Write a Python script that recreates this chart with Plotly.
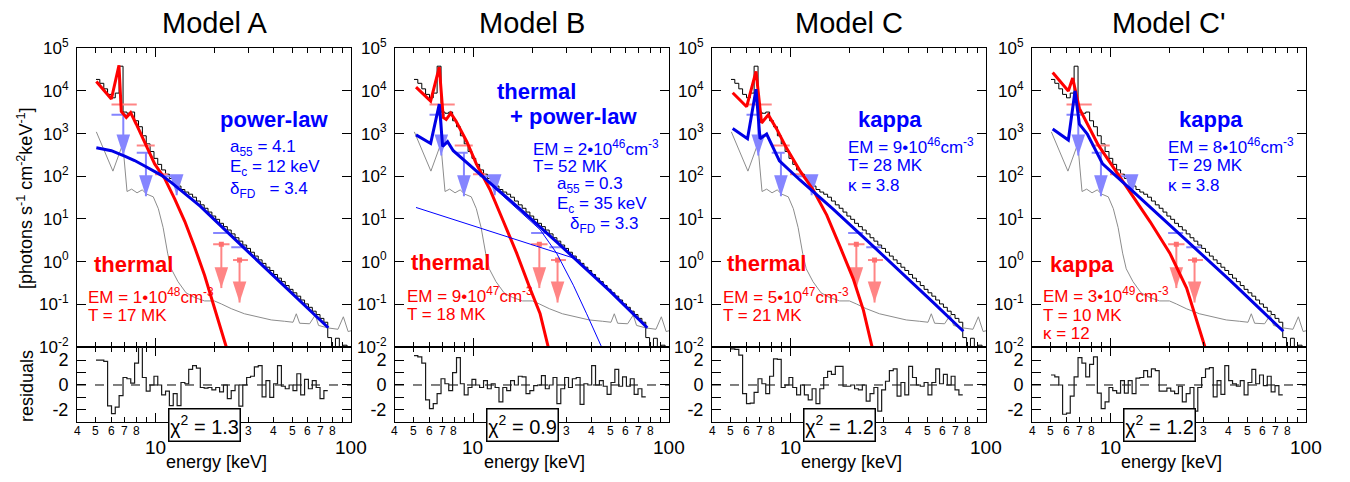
import numpy as np
import plotly.graph_objects as go

W, H = 1350, 482

# ---------------- data ----------------
# energy bin edges (keV) of the count spectrum / residuals
edges = [5.00, 5.23, 5.48, 5.73, 6.00, 6.27, 6.56, 6.87, 7.19, 7.52, 7.87, 8.24, 8.62, 9.02, 9.44,
         9.88, 10.33, 10.81, 11.32, 11.84, 12.39, 12.97, 13.57, 14.20, 14.86, 15.55, 16.27, 17.03,
         17.82, 18.64, 19.51, 20.41, 21.36, 22.35, 23.39, 24.48, 25.61, 26.80, 28.05, 29.35, 30.71,
         32.14, 33.63, 35.19, 36.82, 38.53, 40.32, 42.19, 44.15, 46.20, 48.34, 50.59, 52.94, 55.39,
         57.96, 60.65, 63.47, 66.42, 69.50, 72.73, 76.10]
edges_hi = [79.6, 83.3, 87.2, 91.2, 95.5, 100.0]

# observed photon spectrum [photons s^-1 cm^-2 keV^-1]
spec_flux = [1.86e4, 1.51e4, 1.12e4, 8.3e3, 6.9e3, 8.9e3, 3.8e4, 3.2e3, 3.0e3, 3.2e3,
             2.0e3, 1.45e3, 890, 575, 380, 263, 190, 141, 112, 89,
             72, 59, 49, 42.7, 38.0, 32.4, 26.3, 21.4, 17.8, 14.5,
             11.7, 9.8, 7.9, 6.6, 5.5, 4.47, 3.63, 3.02, 2.45, 2.04,
             1.66, 1.35, 1.10, 0.91, 0.74, 0.62, 0.50, 0.41, 0.34, 0.275,
             0.224, 0.186, 0.155, 0.126, 0.102, 0.085, 0.069, 0.0575, 0.0468, 0.038,
             0.0166, 0.005, 0.016, 0.006, 0.011, 0.0095]

# background spectrum (grey)
bkg_E = [5.02, 6.1, 6.85, 7.2, 7.6, 8.1, 8.6, 9.1, 9.8, 10.4, 11.0, 11.6, 12.1, 13.1, 14.4,
         15.9, 17.9, 20.1, 21.8, 24.5, 28.6, 33.5, 39.2, 45.9, 50.6, 52.6, 54.7, 61.5, 65.7, 68.3,
         76.1, 85.8, 91.4, 96.7, 100.0]
bkg_F = [1100, 132, 575, 44, 50, 41, 48, 38, 33, 17.4, 6.3, 1.58, 0.68, 0.34, 0.186,
         0.145, 0.12, 0.12, 0.102, 0.079, 0.060, 0.051, 0.043, 0.040, 0.038, 0.060, 0.036, 0.035, 0.056, 0.032,
         0.028, 0.026, 0.051, 0.023, 0.024]

# upper limits (light red = thermal, light blue = non-thermal)
ul_red_lo = [6.0, 8.07, 10.0, 19.8, 25.0]
ul_red_hi = [8.07, 9.97, 11.6, 24.0, 29.8]
ul_red_F = [4800, 525, 112, 2.56, 1.09]
ul_blue_lo = [6.0, 8.07, 10.8, 19.8, 24.5]
ul_blue_hi = [7.17, 9.4, 12.9, 23.6, 29.2]
ul_blue_F = [2750, 355, 100, 4.67, 2.16]
arrow_E = [6.89, 8.99, 12.9, 21.8, 27.0]
arrow_from = [2750, 355, 100, 2.56, 1.09]
arrow_to = [309, 34, 36, 0.24, 0.11]
arrow_kind = ["blue", "blue", "blue", "red", "red"]

# Model A
A_th_E = [5.02, 5.99, 6.55, 6.73, 7.14, 7.51, 8.03, 8.86, 9.96, 11.2, 12.6, 14.2, 15.9, 17.9, 20.1, 23.1, 24.2]
A_th_F = [1.66e4, 6.46e3, 3.98e4, 3.31e3, 2.40e3, 3.09e3, 1.66e3, 646, 195, 89, 29.5, 8.7, 2.24, 0.48, 0.085, 0.01, 0.0035]
A_nt_E = [5.02, 5.99, 7.0, 7.87, 8.86, 9.96, 10.8, 12.0, 13.5, 15.0, 17.0, 22.7, 33.5, 49.6, 76.6]
A_nt_F = [468, 398, 295, 234, 174, 132, 105, 74, 48, 31.6, 20.0, 5.6, 1.02, 0.186, 0.0282]
# Model B
B_th_E = [5.12, 6.08, 6.73, 7.05, 7.3, 7.7, 8.2, 9.3, 10.4, 12.2, 14.3, 16.7, 19.5, 22.0, 24.2, 25.2]
B_th_F = [1.23e4, 5.75e3, 3.63e4, 2.40e3, 2.14e3, 3.02e3, 1.95e3, 646, 195, 49, 8.7, 1.58, 0.24, 0.06, 0.01, 0.004]
B_nt_E = [5.12, 6.08, 6.73, 7.0, 7.42, 7.93, 12.2, 18.1, 26.7, 33.8, 50.0, 77.5]
B_nt_F = [933, 589, 4.9e3, 501, 646, 398, 70, 14.5, 2.9, 1.05, 0.204, 0.0282]
B_pl_E = [5.12, 33.8, 50.0, 77.5]
B_pl_F = [18.6, 1.15, 0.204, 0.0282]
B_hot_E = [10.0, 12.2, 18.1, 22.0, 26.7, 32.5, 38.0, 45.3, 47.0]
B_hot_F = [150, 66, 12.5, 5.6, 1.58, 0.28, 0.06, 0.01, 0.006]
# Model C
C_th_E = [5.1, 6.01, 6.71, 7.16, 7.75, 8.55, 9.6, 11.2, 13.1, 15.4, 18.0, 21.0, 23.7, 26.3, 27.5]
C_th_F = [9.1e3, 4.27e3, 2.88e4, 1.78e3, 2.75e3, 1.29e3, 457, 138, 49, 12.3, 2.24, 0.40, 0.072, 0.01, 0.004]
C_nt_E = [5.1, 6.07, 6.71, 7.03, 7.6, 8.83, 11.2, 16.6, 24.6, 36.4, 53.9, 76.6]
C_nt_F = [1318, 759, 1.1e4, 759, 977, 229, 83, 17.0, 3.2, 0.60, 0.11, 0.0234]
# Model C'
D_th_E = [5.1, 6.13, 6.45, 6.98, 8.72, 12.2, 16.0, 20.2, 24.6, 30.5, 31.5]
D_th_F = [2.69e4, 1.0e4, 2.0e4, 3.89e3, 537, 53.7, 8.7, 1.58, 0.24, 0.01, 0.005]
D_nt_E = [5.1, 6.13, 6.63, 6.98, 7.66, 9.17, 12.6, 18.5, 27.7, 41.1, 60.0, 76.6]
D_nt_F = [1288, 708, 1.0e4, 1660, 977, 195, 52, 10.5, 1.95, 0.36, 0.068, 0.0234]

# normalised residuals
res_A = [2.0, 2.0, 1.9, -1.67, -2.3, -1.77, -0.85, 0.6, 0.5, 0.15,
         1.75, 3.5, 0.6, -0.5, 0.0, 0.7, 0.0, -0.8, -0.5, -1.65,
         -0.7, -1.65, 0.2, 0.1, 1.25, 1.55, 1.35, -0.2, -0.25, -0.2,
         -0.4, -0.2, -0.55, 0.0, -1.1, -0.45, 0.0, -1.7, 0.0, 0.6,
         0.7, 1.45, 1.55, -0.95, 0.35, -1.0, 0.1, 1.55, -0.1, -0.3,
         0.0, -0.45, 0.9, -0.8, 0.45, -0.3, 0.35, -0.2, -1.1, -0.45]
res_B = [2.35, 2.25, 1.75, -1.2, -1.9, -1.5, -0.7, 0.5, 0.1, -0.45,
         1.0, 2.2, 0.1, -0.8, -0.2, 0.45, 0.0, -0.2, 0.35, -0.3,
         0.1, -0.2, -1.35, -0.2, -0.45, 0.35, 0.0, 0.7, 0.65, -0.7,
         -0.45, -0.05, 0.0, 0.75, -0.3, 0.0, 0.6, -1.5, -0.3, 0.6,
         -0.2, 0.5, 0.6, -1.55, 0.1, 0.0, 1.55, 0.0, 0.35, -0.1,
         -0.75, 0.2, 1.25, -0.1, 0.65, -0.1, 0.5, -0.75, -0.3, -0.95]
res_C = [2.9, 2.85, 2.4, -0.7, -1.5, -1.45, -0.6, 0.5, 0.1, -0.7,
         0.7, 2.1, 2.05, -0.2, 0.0, 0.6, -0.2, -0.8, 0.0, -0.8,
         -1.2, -0.3, -1.5, -0.3, 0.6, 1.1, 0.85, 1.5, 1.5, -0.1,
         -0.1, 0.0, -0.3, -0.4, 0.0, -1.3, -0.7, -0.2, -2.1, -0.4,
         0.3, 1.15, 1.3, -0.9, 0.2, -0.8, 1.5, 0.6, 0.0, -0.1,
         0.2, -0.8, 0.2, 1.3, 0.1, 0.85, 0.0, 0.7, -0.4, -0.8]
res_D = [0.8, 0.65, 0.0, -2.35, -2.25, -0.9, 0.65, 2.2, 1.75, 0.65,
         1.65, 2.25, -0.65, -1.9, -1.35, -0.2, -0.45, -0.65, 0.35, -0.65,
         0.35, -0.7, 0.55, 0.6, 1.15, 0.65, 1.3, 1.15, -0.5, -0.5,
         -0.25, -0.5, -0.7, -0.1, -1.35, -0.7, -0.2, -2.1, -0.2, 0.6,
         1.3, 1.4, -0.95, 0.35, -0.75, 1.55, 0.35, 0.1, -0.1, 0.35,
         -0.8, 0.2, 1.25, 0.1, 0.8, -0.05, 0.7, -0.55, -0.05, -0.8]

panel_titles = ["Model A", "Model B", "Model C", "Model C'"]
chi2_values = ["1.3", "0.9", "1.2", "1.2"]

minor_tick_E = [4, 5, 6, 7, 8, 9, 20, 30, 40, 50, 60, 70, 80, 90]
minor_label_E = [4, 5, 6, 7, 8, 30, 40, 50, 60, 70, 80]
minor_label_txt = ["4", "5", "6", "7", "8", "3", "4", "5", "6", "7", "8"]
major_label_E = [10, 100]
major_label_txt = ["10", "100"]
ytick_vals = [1e-2, 1e-1, 1e0, 1e1, 1e2, 1e3, 1e4, 1e5]
ytick_txt = ["10<sup>-2</sup>", "10<sup>-1</sup>", "10<sup>0</sup>", "10<sup>1</sup>",
             "10<sup>2</sup>", "10<sup>3</sup>", "10<sup>4</sup>", "10<sup>5</sup>"]
res_tick_vals = [-2, 0, 2]
res_tick_txt = ["-2", "0", "2"]
res_minor_vals = [-1, 1]

# ---------------- styling / layout ----------------
FONT = "Liberation Sans, Arial, sans-serif"
RED, BLUE = "#ff0000", "#0000ff"
LRED, LBLUE = "#ff8585", "#8585ff"
panel_left = [77, 395, 712, 1032]
PW = 274
Y_TOP, Y_MID, Y_BOT = 38, 351, 430

def px(x):
    return x / W

def py(y):
    return 1 - y / H

models = [
    dict(th=(A_th_E, A_th_F), nt=(A_nt_E, A_nt_F), thin=[], res=res_A),
    dict(th=(B_th_E, B_th_F), nt=(B_nt_E, B_nt_F), thin=[(B_pl_E, B_pl_F), (B_hot_E, B_hot_F)], res=res_B),
    dict(th=(C_th_E, C_th_F), nt=(C_nt_E, C_nt_F), thin=[], res=res_C),
    dict(th=(D_th_E, D_th_F), nt=(D_nt_E, D_nt_F), thin=[], res=res_D),
]

fig = go.Figure()
annotations = []
layout = {}

spec_edges = edges + edges_hi

for k, m in enumerate(models):
    mi, ri = k + 1, k + 5
    mx = "x" if mi == 1 else f"x{mi}"
    my = "y" if mi == 1 else f"y{mi}"
    rx, ry = f"x{ri}", f"y{ri}"
    x0, x1 = px(panel_left[k]), px(panel_left[k] + PW)

    xcommon = dict(type="log", range=[np.log10(4), 2], domain=[x0, x1], showline=True,
                   linecolor="black", linewidth=1, mirror="ticks", ticks="inside", ticklen=9,
                   tickwidth=1, tickcolor="black", tickvals=major_label_E, showticklabels=False,
                   showgrid=False, zeroline=False,
                   minor=dict(ticks="inside", ticklen=5, tickvals=minor_tick_E, tickcolor="black",
                              tickwidth=1, showgrid=False))
    layout["xaxis" if mi == 1 else f"xaxis{mi}"] = dict(xcommon, anchor=my)
    layout[f"xaxis{ri}"] = dict(xcommon, anchor=ry)
    layout["yaxis" if mi == 1 else f"yaxis{mi}"] = dict(
        type="log", range=[-2, 5], domain=[py(Y_MID), py(Y_TOP)], anchor=mx, showline=True,
        linecolor="black", linewidth=1, mirror="ticks", ticks="inside", ticklen=9, tickcolor="black",
        tickvals=ytick_vals, ticktext=ytick_txt, showgrid=False, zeroline=False,
        tickfont=dict(family=FONT, size=17, color="black"), ticklabelstandoff=4)
    layout[f"yaxis{ri}"] = dict(
        range=[-3, 3.05], domain=[py(Y_BOT), py(Y_MID)], anchor=rx, showline=True,
        linecolor="black", linewidth=1, mirror="ticks", ticks="inside", ticklen=9, tickcolor="black",
        tickvals=res_tick_vals, ticktext=res_tick_txt, showgrid=False, zeroline=False,
        minor=dict(ticks="inside", ticklen=9, tickvals=res_minor_vals, tickcolor="black", showgrid=False),
        tickfont=dict(family=FONT, size=18, color="black"), ticklabelstandoff=4)

    # observed spectrum (step)
    fig.add_trace(go.Scatter(x=spec_edges, y=spec_flux + [spec_flux[-1]], mode="lines",
                             line=dict(color="black", width=1, shape="hv"), xaxis=mx, yaxis=my))
    # background
    fig.add_trace(go.Scatter(x=bkg_E, y=bkg_F, mode="lines", line=dict(color="#8c8c8c", width=1),
                             xaxis=mx, yaxis=my))
    # upper-limit bars
    for lo, hi, ff, col in [(ul_red_lo, ul_red_hi, ul_red_F, LRED), (ul_blue_lo, ul_blue_hi, ul_blue_F, LBLUE)]:
        xs, ys = [], []
        for a, b, f in zip(lo, hi, ff):
            xs += [a, b, None]
            ys += [f, f, None]
        fig.add_trace(go.Scatter(x=xs, y=ys, mode="lines", line=dict(color=col, width=2),
                                 xaxis=mx, yaxis=my))
    # arrows (shaft + arrow head marker whose tip sits on the limit value)
    for kind, col in [("red", LRED), ("blue", LBLUE)]:
        xs, ys, tx, ty = [], [], [], []
        for e, f0, f1, kd in zip(arrow_E, arrow_from, arrow_to, arrow_kind):
            if kd != kind:
                continue
            xs += [e, e, None]
            ys += [f0, f1, None]
            tx.append(e)
            ty.append(f1)
        fig.add_trace(go.Scatter(x=xs, y=ys, mode="lines", line=dict(color=col, width=2),
                                 xaxis=mx, yaxis=my))
        fig.add_trace(go.Scatter(x=tx, y=ty, mode="markers",
                                 marker=dict(symbol="arrow", angle=180, size=22, color=col,
                                             line=dict(width=0)),
                                 xaxis=mx, yaxis=my))
    fig.add_trace(go.Scatter(x=arrow_E[3:], y=ul_red_F[3:], mode="markers",
                             marker=dict(symbol="square", size=5, color="#ff6f6f"), xaxis=mx, yaxis=my))
    # models
    fig.add_trace(go.Scatter(x=m["th"][0], y=m["th"][1], mode="lines", line=dict(color=RED, width=3),
                             xaxis=mx, yaxis=my))
    for te, tf in m["thin"]:
        fig.add_trace(go.Scatter(x=te, y=tf, mode="lines", line=dict(color=BLUE, width=1),
                                 xaxis=mx, yaxis=my))
    fig.add_trace(go.Scatter(x=m["nt"][0], y=m["nt"][1], mode="lines", line=dict(color="#0000e6", width=3),
                             xaxis=mx, yaxis=my))
    # residuals
    fig.add_trace(go.Scatter(x=[4, 100], y=[0, 0], mode="lines",
                             line=dict(color="black", width=1, dash="dash"), xaxis=rx, yaxis=ry))
    fig.add_trace(go.Scatter(x=edges, y=m["res"] + [m["res"][-1]], mode="lines",
                             line=dict(color="#1a1a1a", width=1.2, shape="hv"), xaxis=rx, yaxis=ry))

    # x tick labels
    for e, t in zip(minor_label_E, minor_label_txt):
        annotations.append(dict(x=np.log10(e), y=py(439), xref=rx, yref="paper", text=t, showarrow=False,
                                font=dict(family=FONT, size=12, color="black"), xanchor="center", yanchor="middle"))
    for e, t in zip(major_label_E, major_label_txt):
        annotations.append(dict(x=np.log10(e), y=py(456), xref=rx, yref="paper", text=t, showarrow=False,
                                font=dict(family=FONT, size=19, color="black"), xanchor="center", yanchor="middle"))
    cx = panel_left[k] + PW / 2
    annotations.append(dict(x=px(panel_left[k] + 139), y=py(471), xref="paper", yref="paper",
                            text="energy [keV]", showarrow=False,
                            font=dict(family=FONT, size=18, color="black"), xanchor="center", yanchor="middle"))
    annotations.append(dict(x=px(cx), y=py(12), xref="paper", yref="paper", text=panel_titles[k],
                            showarrow=False, font=dict(family=FONT, size=29, color="black"),
                            xanchor="center", yanchor="middle"))
    # chi-square box
    annotations.append(dict(x=px(panel_left[k] + 127.5), y=py(432.5), xref="paper", yref="paper",
                            text="χ<sup>2</sup> = " + chi2_values[k], showarrow=False,
                            font=dict(family=FONT, size=20, color="black"), width=68, height=29,
                            bgcolor="white", bordercolor="black", borderwidth=1.5, borderpad=1,
                            xanchor="center", yanchor="middle"))

# panel texts: (text, x_px, y_px, colour, bold)
S = "\u00a0"
panel_text = [
    ("power-law", 218, 113, BLUE, True),
    ("a<sub>55</sub> = 4.1", 228, 142, BLUE, False),
    ("E<sub>c</sub> = 12 keV", 228, 163, BLUE, False),
    ("δ<sub>FD</sub>" + S * 3 + "= 3.4", 228, 186, BLUE, False),
    ("thermal", 92, 265, RED, True),
    ("EM = 1•10<sup>48</sup>cm<sup>-3</sup>", 86, 298, RED, False),
    ("T = 17 MK", 86, 318, RED, False),

    ("thermal", 495, 83, BLUE, True),
    ("+ power-law", 508, 110, BLUE, True),
    ("EM = 2•10<sup>46</sup>cm<sup>-3</sup>", 531, 142, BLUE, False),
    ("T= 52 MK", 531, 162, BLUE, False),
    ("a<sub>55</sub> = 0.3", 555, 181, BLUE, False),
    ("E<sub>c</sub> = 35 keV", 555, 202, BLUE, False),
    ("δ<sub>FD</sub> = 3.3", 568, 223, BLUE, False),
    ("thermal", 409, 263, RED, True),
    ("EM = 9•10<sup>47</sup>cm<sup>-3</sup>", 405, 297, RED, False),
    ("T = 18 MK", 405, 317, RED, False),

    ("kappa", 856, 113, BLUE, True),
    ("EM = 9•10<sup>46</sup>cm<sup>-3</sup>", 846, 140, BLUE, False),
    ("T= 28 MK", 846, 161, BLUE, False),
    ("κ = 3.8", 846, 182, BLUE, False),
    ("thermal", 725, 264, RED, True),
    ("EM = 5•10<sup>47</sup>cm<sup>-3</sup>", 721, 298, RED, False),
    ("T = 21 MK", 721, 318, RED, False),

    ("kappa", 1177, 113, BLUE, True),
    ("EM = 8•10<sup>46</sup>cm<sup>-3</sup>", 1166, 140, BLUE, False),
    ("T= 29 MK", 1166, 161, BLUE, False),
    ("κ = 3.8", 1166, 182, BLUE, False),
    ("kappa", 1048, 265, RED, True),
    ("EM = 3•10<sup>49</sup>cm<sup>-3</sup>", 1041, 297, RED, False),
    ("T = 10 MK", 1041, 318, RED, False),
    ("κ = 12", 1041, 337, RED, False),
]
for t, x, y, c, b in panel_text:
    annotations.append(dict(x=px(x), y=py(y), xref="paper", yref="paper",
                            text=f"<b>{t}</b>" if b else t, showarrow=False,
                            font=dict(family=FONT, size=22 if b else 17, color=c),
                            xanchor="left", yanchor="middle"))

annotations.append(dict(x=px(25), y=py(195), xref="paper", yref="paper",
                        text="[photons s<sup>-1</sup> cm<sup>-2</sup>keV<sup>-1</sup>]", textangle=-90,
                        showarrow=False, font=dict(family=FONT, size=18, color="black"),
                        xanchor="center", yanchor="middle"))
annotations.append(dict(x=px(27), y=py(392), xref="paper", yref="paper", text="residuals", textangle=-90,
                        showarrow=False, font=dict(family=FONT, size=18, color="black"),
                        xanchor="center", yanchor="middle"))

fig.update_layout(width=W, height=H, margin=dict(l=0, r=0, t=0, b=0), showlegend=False,
                  plot_bgcolor="white", paper_bgcolor="white", annotations=annotations,
                  font=dict(family=FONT), **layout)

fig.write_html("out.html")
